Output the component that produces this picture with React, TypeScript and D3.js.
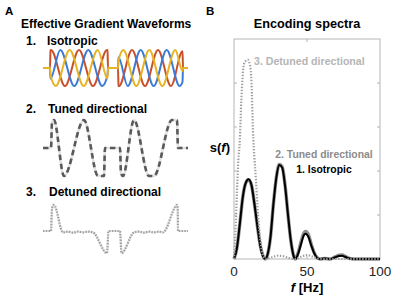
import React from 'react';
import * as d3 from 'd3';

// ---- panel A: gradient waveforms, time in px-like units (0..145), amplitude -1..1
const isoRed: [number, number][] = [
  [0, 0], [7, 0], [7.5, 0.99], [8, 1], [22, -1], [36, 1], [50, -1], [64, 1], [64.5, 0.99], [65, 0],
  [75, 0], [75.5, -0.99], [76, -1], [89, 1], [102, -1], [115, 1], [128, -1], [139.5, 0.93], [140, 0], [145, 0],
];
const isoBlue: [number, number][] = [
  [0, 0], [7, 0], [7.5, -0.59], [17.3, 1], [31.3, -1], [45.3, 1], [59.3, -1], [64.5, -0.39], [65, 0],
  [75, 0], [75.5, 0.6], [84.7, -1], [97.7, 1], [110.7, -1], [123.7, 1], [136.7, -1], [139.5, -0.78], [140, 0], [145, 0],
];
const isoYellow: [number, number][] = [
  [0, 0], [7, 0], [7.5, -0.39], [12.7, -1], [26.7, 1], [40.7, -1], [54.7, 1], [64.5, -0.59], [65, 0],
  [75, 0], [75.5, 0.4], [80.3, 1], [93.3, -1], [106.3, 1], [119.3, -1], [132.3, 1], [139.5, -0.17], [140, 0], [145, 0],
];
const tunedWave: [number, number][] = [
  [0, 0], [8, 0], [9, 0.9], [11, 1], [21, -1], [41, 1], [55, -1], [61, -1], [62, 0], [77, 0],
  [78, -0.9], [80, -1], [91, 1], [106, -1], [111, -1], [129, 1], [134, 1], [135, 0], [145, 0],
];
const detunedWave: [number, number][] = [
  [0, 0], [8, 0], [9, 0.8], [11, 0.93], [20, -0.05], [25, -0.02], [30, -0.06], [35, -0.02], [40, -0.05],
  [45, -0.02], [50, -0.05], [64, -0.79], [65.5, 0], [77, 0], [78.5, -0.79], [91, -0.05], [96, -0.02],
  [101, -0.06], [106, -0.02], [111, -0.05], [116, -0.02], [120, -0.05], [133, 0.9], [134, 0.93],
  [134.7, 0.8], [135, 0], [145, 0],
];

// ---- panel B: encoding spectra, f in Hz, s normalised
const specIso: [number, number][] = [
  [0, 0], [2, 0.05], [4, 0.16], [6, 0.28], [8, 0.345], [10, 0.362], [12, 0.335], [14, 0.25], [16, 0.15],
  [18, 0.06], [20, 0.01], [21.5, 0], [23, 0.02], [25, 0.1], [27, 0.25], [29, 0.37], [31, 0.427], [33, 0.415],
  [35, 0.33], [37, 0.2], [39, 0.08], [41, 0.01], [42, 0], [44, 0.025], [46, 0.07], [48, 0.11], [49, 0.115],
  [51, 0.1], [53, 0.06], [55, 0.025], [57, 0.005], [59, 0], [62, 0.002], [66, 0], [69, 0.007], [72, 0.014],
  [74, 0.015], [76, 0.01], [79, 0.002], [82, 0], [100, 0],
];
const specTuned: [number, number][] = [
  [0, 0], [2, 0.05], [4, 0.16], [6, 0.28], [8, 0.345], [10, 0.36], [12, 0.335], [14, 0.25], [16, 0.15],
  [18, 0.06], [20, 0.012], [21.5, 0], [23, 0.02], [25, 0.1], [27, 0.25], [29, 0.37], [31, 0.43], [33, 0.42],
  [35, 0.335], [37, 0.2], [39, 0.08], [41, 0.012], [42, 0], [44, 0.03], [46, 0.08], [48, 0.12], [49, 0.125],
  [51, 0.11], [53, 0.065], [55, 0.028], [57, 0.006], [59, 0], [62, 0.002], [66, 0], [69, 0.009], [72, 0.017],
  [74, 0.018], [76, 0.012], [79, 0.003], [82, 0], [100, 0],
];
const specDetuned: [number, number][] = [
  [0, 0], [1, 0.12], [2, 0.3], [3, 0.45], [4, 0.54], [5, 0.72], [6, 0.84], [7, 0.89], [8, 0.9], [9.5, 0.905],
  [11, 0.88], [12, 0.8], [13, 0.58], [14, 0.46], [15, 0.36], [16, 0.25], [17, 0.16], [18, 0.09], [19, 0.04],
  [20, 0.015], [22, 0], [26, 0.008], [30, 0.015], [34, 0.012], [38, 0.004], [42, 0], [46, 0.01], [50, 0.018],
  [54, 0.01], [58, 0.002], [62, 0], [100, 0],
];
const xTickValues = [0, 50, 100];
const yTickValues = [0, 0.2, 0.4, 0.6, 0.8, 1];

const FONT = 'Liberation Sans, Arial, Helvetica, sans-serif';

export default function App() {
  const width = 400;
  const height = 302;

  // waveform scales
  const xW = d3.scaleLinear().domain([0, 145]).range([43, 188]);
  const yIso = d3.scaleLinear().domain([-1, 1]).range([86, 50]);
  const yTuned = d3.scaleLinear().domain([-1, 1]).range([176, 120]);
  const yDet = d3.scaleLinear().domain([-1, 1]).range([259, 203]);

  const waveLine = (ys: d3.ScaleLinear<number, number>) =>
    d3.line<[number, number]>()
      .x((d) => xW(d[0]))
      .y((d) => ys(d[1]))
      .curve(d3.curveMonotoneX);

  // spectrum scales
  const xS = d3.scaleLinear().domain([0, 100]).range([234, 380]);
  const yS = d3.scaleLinear().domain([0, 1]).range([259, 39]);
  const specLine = d3.line<[number, number]>()
    .x((d) => xS(d[0]))
    .y((d) => yS(d[1]))
    .curve(d3.curveMonotoneX);

  const tickColor = '#b5b5b5';

  return (
    <div style={{ position: 'fixed', left: 0, top: 0 }}>
      <svg width={width} height={height} style={{ display: 'block', background: '#fff' }} fontFamily={FONT}>
        {/* panel letters */}
        <text x={5} y={15} fontSize={11.5} fontWeight="bold">A</text>
        <text x={206} y={15} fontSize={11.5} fontWeight="bold">B</text>

        {/* panel A */}
        <text x={21} y={28} fontSize={12} fontWeight="bold">Effective Gradient Waveforms</text>
        <text x={26} y={45} fontSize={12} fontWeight="bold">1.</text>
        <text x={47} y={45} fontSize={12} fontWeight="bold">Isotropic</text>
        <text x={26} y={113} fontSize={12} fontWeight="bold">2.</text>
        <text x={48} y={113} fontSize={12} fontWeight="bold">Tuned directional</text>
        <text x={26} y={196} fontSize={12} fontWeight="bold">3.</text>
        <text x={49} y={196} fontSize={12} fontWeight="bold">Detuned directional</text>

        <g fill="none" strokeLinejoin="round">
          <path d={waveLine(yIso)(isoRed) ?? ''} stroke="#c8502a" strokeWidth={2} />
          <path d={waveLine(yIso)(isoBlue) ?? ''} stroke="#3b7bd6" strokeWidth={2} />
          <path d={waveLine(yIso)(isoYellow) ?? ''} stroke="#e8b222" strokeWidth={2} />

          <path d={waveLine(yTuned)(tunedWave) ?? ''} stroke="#e2e2e2" strokeWidth={2.6} />
          <path d={waveLine(yTuned)(tunedWave) ?? ''} stroke="#5a5a5a" strokeWidth={2.6} strokeDasharray="5.5 3.5" />

          <path d={waveLine(yDet)(detunedWave) ?? ''} stroke="#e6e6e6" strokeWidth={2.2} />
          <path d={waveLine(yDet)(detunedWave) ?? ''} stroke="#a0a0a0" strokeWidth={2.2} strokeDasharray="1.4 1.4" />
        </g>

        {/* panel B */}
        <text x={307} y={28} fontSize={12.7} fontWeight="bold" textAnchor="middle">Encoding spectra</text>

        <rect x={xS(0)} y={yS(1)} width={xS(100) - xS(0)} height={yS(0) - yS(1)} fill="none" stroke={tickColor} strokeWidth={1} />
        {yTickValues.slice(1, -1).map((v) => (
          <g key={'y' + v} stroke={tickColor}>
            <line x1={xS(0)} x2={xS(0) + 3} y1={yS(v)} y2={yS(v)} />
            <line x1={xS(100)} x2={xS(100) - 3} y1={yS(v)} y2={yS(v)} />
          </g>
        ))}
        {xTickValues.slice(1, -1).map((v) => (
          <g key={'x' + v} stroke={tickColor}>
            <line x1={xS(v)} x2={xS(v)} y1={yS(1)} y2={yS(1) + 3} />
            <line x1={xS(v)} x2={xS(v)} y1={yS(0)} y2={yS(0) - 3} />
          </g>
        ))}

        <g fill="none" strokeLinejoin="round">
          <path d={specLine(specTuned) ?? ''} stroke="#8c8c8c" strokeWidth={3.4} />
          <path d={specLine(specIso) ?? ''} stroke="#000" strokeWidth={2} />
          <path d={specLine(specDetuned) ?? ''} stroke="#a0a0a0" strokeWidth={2.2} strokeDasharray="1.4 1.6" />
        </g>

        {xTickValues.map((v) => (
          <text key={'xl' + v} x={xS(v)} y={276} fontSize={13.5} textAnchor="middle" fill="#222">{v}</text>
        ))}
        <text x={xS(50)} y={292} fontSize={13} fontWeight="bold" textAnchor="middle">
          <tspan fontStyle="italic">f</tspan> [Hz]
        </text>
        <text x={230} y={152} fontSize={13} fontWeight="bold" textAnchor="end">
          s(<tspan fontStyle="italic">f</tspan>)
        </text>

        <text x={254} y={65} fontSize={10.6} fontWeight="bold" fill="#b5b5b5">3. Detuned directional</text>
        <text x={324} y={158} fontSize={10.4} fontWeight="bold" fill="#8c8c8c" textAnchor="middle">2. Tuned directional</text>
        <text x={324} y={173} fontSize={10.4} fontWeight="bold" fill="#000" textAnchor="middle">1. Isotropic</text>
      </svg>
    </div>
  );
}
